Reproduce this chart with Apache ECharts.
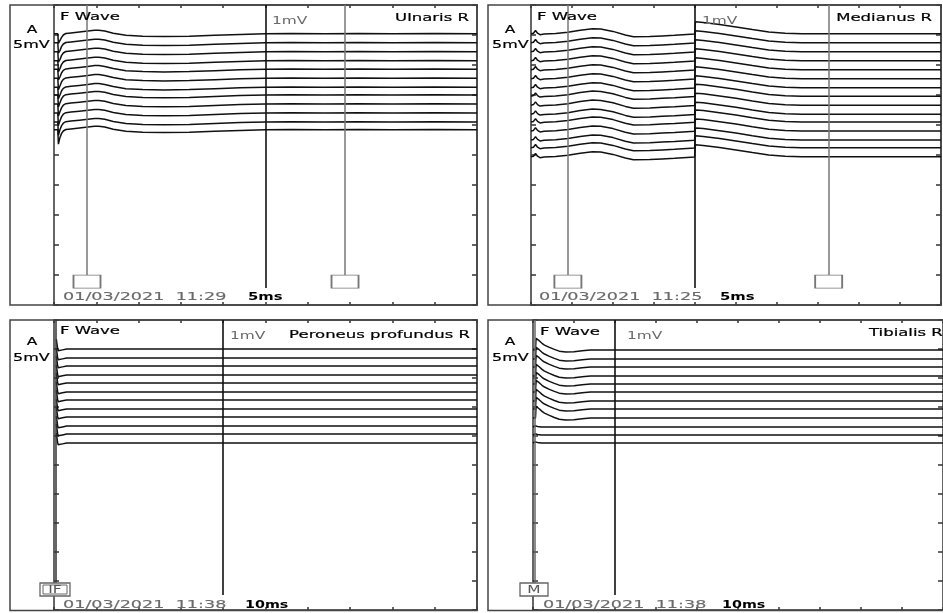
<!DOCTYPE html>
<html><head><meta charset="utf-8">
<script src="https://cdn.jsdelivr.net/npm/echarts@6/dist/echarts.min.js"></script>
<style>html,body{margin:0;padding:0;background:#fff}#c{width:943px;height:613px}</style>
</head><body><div id="c"></div>
<script>
// ---------- DATA (x in ms, y in mV; 5 mV/div) ----------
// Panel 1: Ulnaris R, 5 ms/div
const p1Baselines = [45.2, 43.7, 42.2, 40.7, 39.3, 37.8, 36.3, 35.0, 33.5, 32.0, 30.5, 29.2];
const p1StimDip   = [1.6, 1.7, 1.7, 1.8, 1.8, 1.9, 1.9, 2.0, 2.0, 2.1, 2.2, 2.4];
const p1Wave = [[0.7,-1.3],[0.9,-0.6],[1.1,-0.2],[1.4,0.05],[2,0.15],[3,0.3],[4,0.45],[4.8,0.6],[5.3,0.6],[6,0.45],[7,0.1],[8.5,-0.25],[10.5,-0.4],[13,-0.45],[16,-0.4],[19,-0.25],[22,-0.1],[25,0],[28,0.05],[32,0],[36,0.05],[40,0],[45,0.05],[50,0]];
const p1Cursors = [3.9, 34.4];
const p1Marker = 25;

// Panel 2: Medianus R, 5 ms/div
const p2Baselines = [45.2, 43.7, 42.2, 40.7, 39.2, 37.7, 36.2, 34.8, 33.3, 31.8, 30.5, 29.0, 27.5, 26.2, 24.7];
const p2Wave = [[0,0],[0.3,0.1],[0.55,0.55],[0.8,0.1],[1.1,-0.15],[1.6,-0.05],[3,0.05],[4.5,0.25],[6,0.6],[7.5,0.85],[8.5,0.8],[10,0.4],[11.5,-0.2],[12.5,-0.5],[14.5,-0.45],[16,-0.35],[17.5,-0.25],[19,-0.12],[19.95,-0.05],[20.05,2.0],[21,1.9],[23,1.55],[25,1.15],[27,0.7],[29,0.3],[31,0.08],[33,0],[40,0],[50,0]];
const p2Cursors = [4.5, 36.3];
const p2Marker = 20;

// Panel 3: Peroneus profundus R, 10 ms/div
const p3Baselines = [45.0, 43.45, 42.07, 40.52, 39.14, 37.59, 36.21, 34.66, 33.28, 31.72, 30.34, 28.79];
const p3Wave = [[0.55,1.7],[0.7,0.9],[0.85,0.1],[1.0,-0.3],[1.4,-0.35],[2.0,-0.15],[3.0,0],[50,0],[100,0]];
const p3Marker = 40;

// Panel 4: Tibialis R, 10 ms/div
const p4Baselines = [44.83, 43.28, 41.9, 40.34, 38.97, 37.59, 36.03, 34.66, 33.1, 31.55, 30.17, 28.79];
const p4SpikeCount = 9;
const p4SpikeWave = [[0,0],[0.6,0],[0.75,2.0],[1.0,1.95],[1.5,1.6],[2.2,1.15],[2.8,0.85],[4,0.45],[5.2,0.1],[6.4,-0.2],[8,-0.35],[10,-0.3],[12,-0.12],[14,0],[100,0]];
const p4FlatWave = [[0,0],[0.5,0.2],[0.8,0.5],[1.1,0.1],[2,0],[100,0]];
const p4Marker = 20;

// ---------- STYLE ----------
const FONT = '"DejaVu Sans", Verdana, sans-serif';
const INK = '#111';
const FRAME = '#444';
const CURSOR = '#777';

const grids = [
  {left: 54, top: 5, width: 423, height: 300},
  {left: 531, top: 5, width: 410, height: 300},
  {left: 54, top: 320, width: 423, height: 290},
  {left: 533, top: 320, width: 423, height: 290}
];
const xMax = [50, 50, 100, 100];
const xInt = [5, 5, 10, 10];

const xAxis = [], yAxis = [];
grids.forEach((g, i) => {
  const axLine = {show: true, onZero: false, lineStyle: {color: '#333', width: 1.5}};
  ['bottom', 'top'].forEach(pos => xAxis.push({
    type: 'value', gridIndex: i, position: pos, min: 0, max: xMax[i], interval: xInt[i],
    axisLine: axLine, axisTick: {show: true, inside: true, length: 3, lineStyle: {color: '#333', width: 1.5}},
    axisLabel: {show: false}, splitLine: {show: false}
  }));
  ['left', 'right'].forEach(pos => yAxis.push({
    type: 'value', gridIndex: i, position: pos, min: 0, max: 50, interval: 5,
    axisLine: axLine, axisTick: {show: true, inside: true, length: 5, lineStyle: {color: '#333', width: 1.5}},
    axisLabel: {show: false}, splitLine: {show: false}
  }));
});

const series = [];
function addTrace(gi, data, extra) {
  series.push(Object.assign({
    type: 'line', xAxisIndex: gi * 2, yAxisIndex: gi * 2, data: data,
    showSymbol: false, symbol: 'none', silent: true, animation: false,
    lineStyle: {color: INK, width: 1.5}, z: 3
  }, extra || {}));
}
function vline(x, y1, y2, color, width) {
  return [{coord: [x, y1], lineStyle: {color: color, width: width, type: 'solid'}}, {coord: [x, y2]}];
}
function mlines(data) {
  return {silent: true, symbol: ['none', 'none'], label: {show: false}, animation: false,
    lineStyle: {type: 'solid'}, emphasis: {disabled: true}, data: data};
}
function cursorMarks(cursors, marker, markerEnd, cursorEnd, boxY) {
  const lines = cursors.map(c => vline(c, 50, cursorEnd, CURSOR, 1.5));
  lines.push(vline(marker, 50, markerEnd, INK, 1.6));
  return {
    markLine: mlines(lines),
    markPoint: {silent: true, animation: false, symbol: 'rect', symbolSize: [27, 13],
      itemStyle: {color: '#fff', borderColor: CURSOR, borderWidth: 1.3}, label: {show: false},
      data: cursors.map(c => ({coord: [c, boxY]}))}
  };
}

// Panel 1
p1Baselines.forEach((b, i) => {
  const d = [[0, b], [0.45, b], [0.52, b - p1StimDip[i]]].concat(p1Wave.map(p => [p[0], b + p[1]]));
  addTrace(0, d, i === 0 ? cursorMarks(p1Cursors, p1Marker, 2.83, 5, 3.9) : null);
});
// Panel 2
p2Baselines.forEach((b, i) => {
  addTrace(1, p2Wave.map(p => [p[0], b + p[1]]), i === 0 ? cursorMarks(p2Cursors, p2Marker, 2.83, 5, 3.9) : null);
});
// Panel 3
p3Baselines.forEach((b, i) => {
  const extra = i === 0 ? {markLine: mlines([vline(p3Marker, 50, 2.6, INK, 1.6), vline(0.35, 50, 4.66, '#333', 1.5)])} : null;
  addTrace(2, p3Wave.map(p => [p[0], b + p[1]]), extra);
});
// Panel 4
p4Baselines.forEach((b, i) => {
  const w = i < p4SpikeCount ? p4SpikeWave : p4FlatWave;
  const extra = i === 0 ? {markLine: mlines([vline(p4Marker, 50, 2.6, INK, 1.6), vline(0.35, 50, 4.66, '#666', 1.5)])} : null;
  addTrace(3, w.map(p => [p[0], b + p[1]]), extra);
});

// ---------- TEXT & FRAMES ----------
function txt(t, x, y, o) {
  o = o || {};
  return {type: 'text', x: x, y: y, scaleX: o.sx || 1.5, z: 20, silent: true,
    style: {text: t, fontSize: o.size || 11, fontFamily: FONT, fontWeight: o.bold ? 'bold' : 'normal',
      fill: o.color || '#000', textAlign: o.align || 'left', align: o.align || 'left',
      textVerticalAlign: 'middle', verticalAlign: 'middle',
      stroke: o.color || '#000', lineWidth: o.sw === undefined ? 0.2 : o.sw}};
}
function frame(x1, y1, x2, y2) {
  return {type: 'rect', z: 1, silent: true, shape: {x: x1, y: y1, width: x2 - x1, height: y2 - y1},
    style: {fill: 'transparent', stroke: FRAME, lineWidth: 1.5}};
}
function tagBox(label, x, y, w, h, dbl) {
  const els = [{type: 'rect', z: 15, shape: {x: x, y: y, width: w, height: h}, style: {fill: '#fff', stroke: '#666', lineWidth: 1.3}}];
  if (dbl) els.push({type: 'rect', z: 16, shape: {x: x + 3, y: y + 2, width: w - 6, height: h - 4}, style: {fill: 'transparent', stroke: '#666', lineWidth: 1}});
  els.push({type: 'text', z: 17, x: x + w / 2, y: y + h / 2 + 0.5, scaleX: 1.4,
    style: {text: label, fontSize: 11, fontFamily: FONT, fill: '#555', textAlign: 'center', align: 'center', textVerticalAlign: 'middle', verticalAlign: 'middle'}});
  return els;
}

const GRAY = '#6a6a6a';
const graphic = [
  frame(10, 5, 477, 305), frame(488, 5, 941, 305), frame(10, 320, 477, 610.5), frame(488, 320, 960, 610.5),
  // panel 1
  txt('A', 32, 30, {align: 'center', sx: 1.4}), txt('5mV', 13, 45, {sx: 1.45}),
  txt('F Wave', 60, 17), txt('1mV', 272, 21, {color: GRAY, sx: 1.4, sw: 0}), txt('Ulnaris R', 469, 18, {align: 'right'}),
  txt('01/03/2021  11:29', 63, 297, {color: GRAY, sx: 1.6, sw: 0.15}), txt('5ms', 248, 297, {sx: 1.35, bold: true, sw: 0}),
  // panel 2
  txt('A', 510, 30, {align: 'center', sx: 1.4}), txt('5mV', 492, 45, {sx: 1.45}),
  txt('F Wave', 537, 17), txt('1mV', 702, 21.5, {color: GRAY, sx: 1.4, sw: 0}), txt('Medianus R', 932, 18, {align: 'right'}),
  txt('01/03/2021  11:25', 539, 297, {color: GRAY, sx: 1.6, sw: 0.15}), txt('5ms', 720, 297, {sx: 1.35, bold: true, sw: 0}),
  // panel 3
  txt('A', 32, 342, {align: 'center', sx: 1.4}), txt('5mV', 13, 358, {sx: 1.45}),
  txt('F Wave', 60, 331), txt('1mV', 230, 336, {color: GRAY, sx: 1.4, sw: 0}), txt('Peroneus profundus R', 470, 335, {align: 'right'}),
  txt('01/03/2021  11:38', 63, 605, {color: GRAY, sx: 1.6, sw: 0.15}), txt('10ms', 245, 605, {sx: 1.3, bold: true, sw: 0}),
  // panel 4
  txt('A', 510, 342, {align: 'center', sx: 1.4}), txt('5mV', 492, 358, {sx: 1.45}),
  txt('F Wave', 540, 332), txt('1mV', 627, 336, {color: GRAY, sx: 1.4, sw: 0}), txt('Tibialis R', 869, 333),
  txt('01/03/2021  11:38', 543, 605, {color: GRAY, sx: 1.6, sw: 0.15}), txt('10ms', 722, 605, {sx: 1.3, bold: true, sw: 0})
].concat(tagBox('IF', 40, 583, 30, 13, true)).concat(tagBox('M', 520, 583, 28, 13, false));

const chart = echarts.init(document.getElementById('c'), null, {renderer: 'canvas'});
chart.setOption({
  animation: false, backgroundColor: '#fff',
  grid: grids.map(g => Object.assign({containLabel: false, show: false}, g)),
  xAxis: xAxis, yAxis: yAxis, series: series, graphic: graphic
});
</script></body></html>
